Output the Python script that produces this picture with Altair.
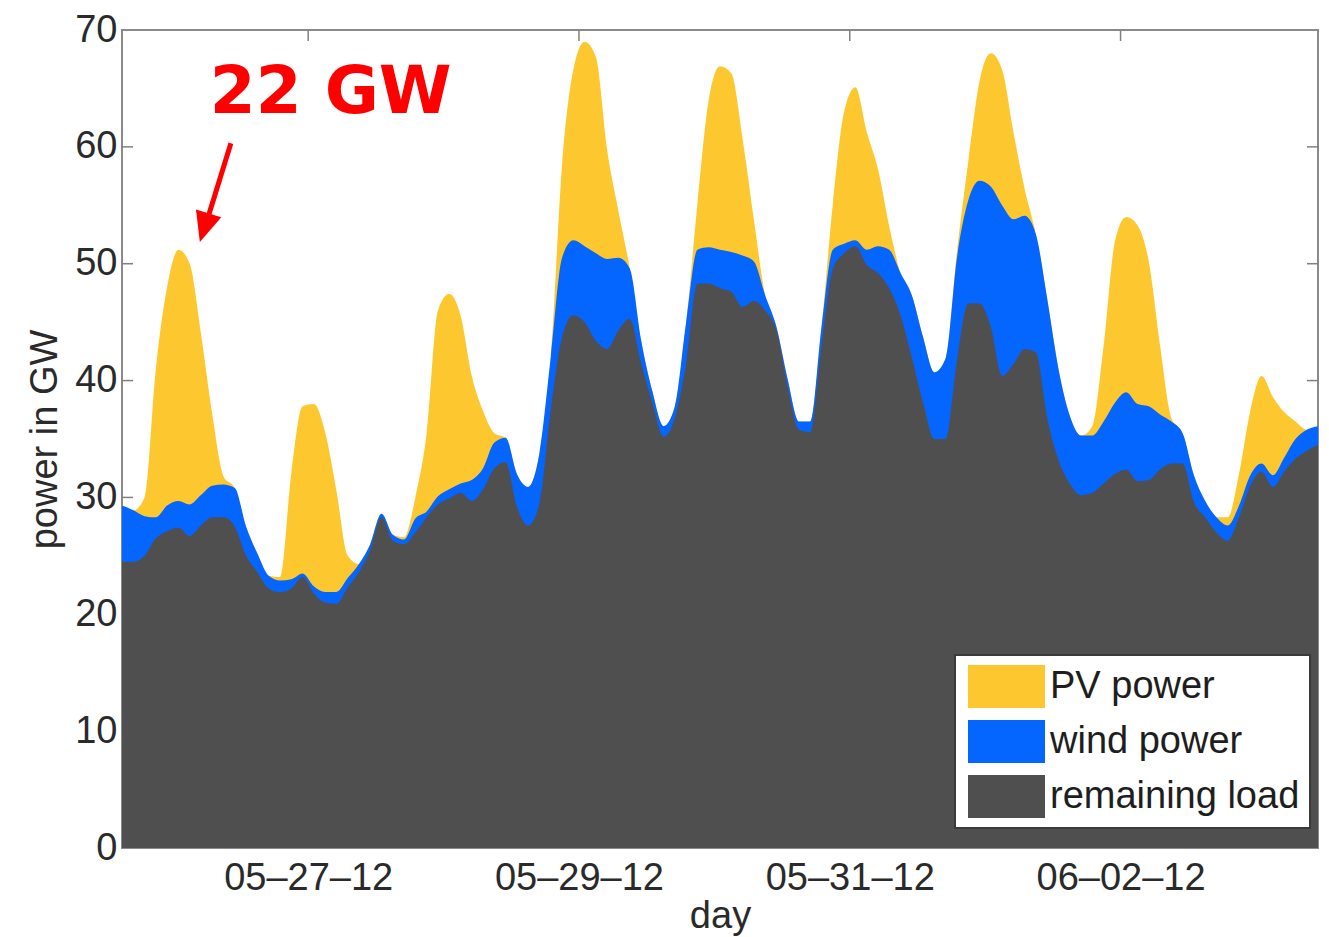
import altair as alt
import pandas as pd

# ---------------------------------------------------------------- data
SERIES = ["PV power", "wind power", "remaining load"]
COLORS = ["#FDC82F", "#0565FF", "#4F4F4F"]

START = "2012-05-25 15:00"   # first sample (left edge of the plot)
STEP = "2h"                  # sampling step of the readings below

# top of the grey band: remaining load (GW)
remaining_load = [
    24.5, 24.5, 25.0, 26.5, 27.1, 27.4, 26.7, 27.6, 28.3, 28.3,
    27.5, 25.0, 23.6, 22.2, 21.9, 22.2, 23.2, 21.8, 21.0, 20.9,
    22.3, 23.6, 25.5, 28.3, 26.3, 26.0, 27.0, 28.3, 29.4, 29.9,
    30.4, 29.7, 30.7, 32.5, 33.0, 29.2, 27.6, 29.5, 37.5, 43.7,
    45.6, 45.0, 43.4, 42.7, 44.3, 45.3, 41.5, 38.1, 35.2, 36.8,
    41.5, 48.3, 48.3, 47.9, 47.6, 46.3, 46.8, 46.0, 44.3, 39.4,
    35.8, 35.6, 43.0, 49.6, 50.9, 51.5, 49.9, 49.2, 47.9, 45.6,
    42.0, 38.1, 35.0, 35.0, 41.7, 46.6, 46.6, 44.6, 40.4, 41.4,
    42.7, 42.4, 36.8, 33.2, 31.2, 30.2, 30.4, 31.2, 32.0, 32.4,
    31.4, 31.5, 32.4, 32.9, 32.9, 29.6, 28.3, 27.0, 26.3, 28.3,
    31.0, 32.2, 30.9, 32.2, 33.3, 34.0, 34.5,
]

# top of the blue band: remaining load + wind power (GW)
load_plus_wind = [
    29.3, 28.9, 28.4, 28.3, 29.3, 29.7, 29.4, 30.2, 31.0, 31.1,
    30.8, 27.5, 25.2, 23.3, 22.9, 23.0, 23.5, 22.4, 21.9, 21.9,
    23.1, 24.3, 26.0, 28.6, 26.8, 26.4, 28.2, 28.8, 30.1, 30.7,
    31.2, 31.5, 32.5, 34.7, 35.1, 32.0, 30.9, 33.8, 42.0, 50.5,
    52.0, 51.5, 50.9, 50.4, 50.5, 49.6, 43.5, 39.1, 36.1, 37.8,
    45.0, 51.2, 51.4, 51.2, 51.0, 50.7, 50.2, 47.3, 44.6, 40.1,
    36.5, 36.5, 44.6, 51.2, 51.7, 52.0, 51.2, 51.5, 51.2, 49.2,
    47.3, 43.7, 40.7, 41.9, 50.5, 55.4, 57.1, 56.6, 55.0, 53.8,
    54.1, 52.5, 47.0, 41.0, 37.0, 35.3, 35.3, 36.5, 38.1, 39.0,
    38.0, 37.8, 37.1, 36.5, 35.5, 31.9, 29.7, 28.3, 27.6, 29.3,
    31.9, 32.9, 31.9, 33.4, 35.0, 35.8, 36.1,
]

# top of the yellow band: total load = remaining + wind + PV (GW)
total_load = [
    29.3, 28.9, 30.0, 41.0, 48.0, 51.2, 50.0, 44.0, 37.1, 31.8,
    30.8, 27.5, 25.2, 23.3, 23.2, 32.0, 37.8, 38.0, 35.6, 30.6,
    25.0, 24.3, 26.0, 28.6, 26.8, 26.6, 30.0, 35.5, 46.0, 47.4,
    45.6, 40.4, 37.4, 35.5, 35.1, 32.0, 30.9, 33.8, 42.0, 58.4,
    66.6, 69.0, 67.7, 59.7, 54.5, 49.6, 43.5, 39.1, 36.1, 37.8,
    45.0, 55.1, 64.0, 66.9, 66.3, 60.7, 53.8, 47.3, 44.6, 40.1,
    36.5, 36.5, 44.6, 55.1, 63.0, 65.1, 61.3, 58.1, 53.2, 49.2,
    47.3, 43.7, 40.7, 41.9, 51.0, 58.7, 65.6, 68.0, 66.6, 61.3,
    56.4, 52.5, 47.0, 41.0, 37.0, 35.3, 36.1, 43.0, 51.9, 54.0,
    53.3, 50.2, 43.0, 36.8, 35.5, 31.9, 29.7, 28.3, 28.3, 32.0,
    37.4, 40.4, 38.6, 37.3, 36.5, 35.8, 36.1,
]

y_tick_values = [0, 10, 20, 30, 40, 50, 60, 70]
x_tick_days = ["2012-05-27", "2012-05-29", "2012-05-31", "2012-06-02"]

# annotation ("22 GW" and arrow) in data coordinates (time, GW)
annotation_text = "22 GW"
annotation_at = ("2012-05-27 04:00", 62.9)
arrow_from = ("2012-05-26 10:18", 60.3)
arrow_to = ("2012-05-26 05:53", 53.4)
arrow_head = ("2012-05-26 05:43", 53.3)

# ---------------------------------------------------------------- build
W, H = 1196, 818
FONT = "Liberation Sans"
TXT = "#2a2a2a"
TICK = "#808080"

times = pd.date_range(START, periods=len(remaining_load), freq=STEP)
frames = []
for name, tops in zip(SERIES, [total_load, load_plus_wind, remaining_load]):
    frames.append(pd.DataFrame({"time": times, "series": name, "power": tops}))
df = pd.concat(frames, ignore_index=True)

x_scale = alt.Scale(
    domain=[alt.DateTime(year=2012, month=5, date=25, hours=15),
            alt.DateTime(year=2012, month=6, date=3, hours=11)],
    nice=False,
)
y_scale = alt.Scale(domain=[0, 70], nice=False)
color_scale = alt.Scale(domain=SERIES, range=COLORS)

x_axis = alt.Axis(
    values=[alt.DateTime(year=int(d[:4]), month=int(d[5:7]), date=int(d[8:10])) for d in x_tick_days],
    format="%m\u2013%d\u2013%y",
    title="day",
    labelFont=FONT, titleFont=FONT,
    labelFontSize=38, titleFontSize=38,
    labelColor=TXT, titleColor=TXT, titleFontWeight="normal",
    labelPadding=11, titlePadding=0,
    ticks=False, tickSize=0, domain=False, grid=False, labelFlush=False,
)
y_axis = alt.Axis(
    values=y_tick_values,
    title="power in GW",
    labelFont=FONT, titleFont=FONT,
    labelFontSize=38, titleFontSize=38,
    labelColor=TXT, titleColor=TXT, titleFontWeight="normal",
    labelPadding=5, titlePadding=10,
    ticks=False, tickSize=0, domain=False, grid=False,
)
# swatch 77 x 43 px: symbol size 43^2, path 2*1.7907 wide, 2 high
legend = alt.Legend(
    title=None, orient="none", legendX=833, legendY=625, direction="vertical",
    symbolType="M-1.7907,-1L1.7907,-1L1.7907,1L-1.7907,1Z", symbolSize=1849,
    symbolOffset=20, symbolStrokeWidth=0, symbolOpacity=1,
    labelFont=FONT, labelFontSize=38, labelColor="#1e1e1e", labelOffset=22,
    labelLimit=400, rowPadding=12, padding=10,
    strokeColor="#3a3a3a", fillColor="white", cornerRadius=0,
)

X = lambda f: alt.X(f, scale=x_scale, axis=x_axis)
Y = lambda f: alt.Y(f, scale=y_scale, axis=y_axis)


def area_layer(name):
    return (
        alt.Chart(df)
        .transform_filter(alt.datum.series == name)
        .mark_area(interpolate="monotone", opacity=1)
        .encode(
            x=X("time:T"),
            y=alt.Y("power:Q", scale=y_scale, axis=y_axis, stack=None),
            color=alt.Color("series:N", scale=color_scale, legend=legend),
        )
    )


ytick_df = pd.DataFrame({"power": y_tick_values[1:-1]})
xtick_df = pd.DataFrame({"time": pd.to_datetime(x_tick_days)})

left_ticks = alt.Chart(ytick_df).mark_rule(color=TICK, strokeWidth=1.5).encode(
    y=Y("power:Q"), x=alt.value(0), x2=alt.value(11))
right_ticks = alt.Chart(ytick_df).mark_rule(color=TICK, strokeWidth=1.5).encode(
    y=Y("power:Q"), x=alt.value(W - 11), x2=alt.value(W))
top_ticks = alt.Chart(xtick_df).mark_rule(color=TICK, strokeWidth=1.5).encode(
    x=X("time:T"), y=alt.value(0), y2=alt.value(11))

ann_df = pd.DataFrame({"time": [pd.Timestamp(annotation_at[0])], "power": [annotation_at[1]],
                       "label": [annotation_text]})
ann_text = alt.Chart(ann_df).mark_text(
    font="DejaVu Sans", fontWeight="bold", fontSize=66, color="#FF0000",
    align="center", baseline="alphabetic",
).encode(x=X("time:T"), y=Y("power:Q"), text="label:N")

arrow_df = pd.DataFrame({
    "time": [pd.Timestamp(arrow_from[0])], "power": [arrow_from[1]],
    "time2": [pd.Timestamp(arrow_to[0])], "power2": [arrow_to[1]],
})
arrow_line = alt.Chart(arrow_df).mark_rule(color="#FF0000", strokeWidth=5).encode(
    x=X("time:T"), y=Y("power:Q"), x2="time2:T", y2="power2:Q",
)
head_df = pd.DataFrame({"time": [pd.Timestamp(arrow_head[0])], "power": [arrow_head[1]]})
arrow_tip = alt.Chart(head_df).mark_point(
    shape="M0,1L-0.75,-0.7L0.75,-0.7Z", size=1246, angle=17,
    filled=True, color="#FF0000", opacity=1, strokeWidth=0,
).encode(x=X("time:T"), y=Y("power:Q"))

chart = (
    alt.layer(
        left_ticks, right_ticks, top_ticks,
        area_layer("PV power"), area_layer("wind power"), area_layer("remaining load"),
        arrow_line, arrow_tip, ann_text,
    )
    .properties(
        width=W, height=H,
        padding={"left": 122, "top": 30, "right": 11, "bottom": 89},
        autosize=alt.AutoSizeParams(type="none"),
    )
    .configure_view(stroke="#8a8a8a", strokeWidth=2)
    .configure_legend(strokeWidth=2)
)

chart.save("out.html", embed_options={"renderer": "svg", "actions": False})
